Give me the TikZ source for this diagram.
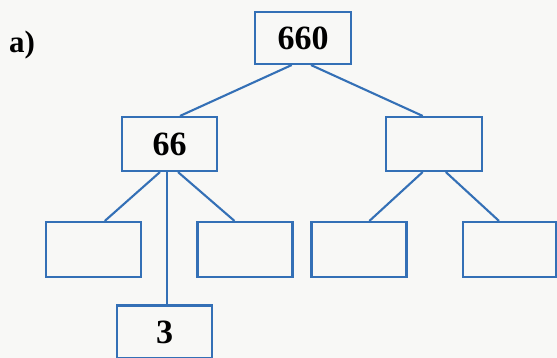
\documentclass[tikz,border=0pt]{standalone}
\usepackage{fontspec}
\setmainfont{Liberation Serif}
\definecolor{boxblue}{RGB}{52,112,182}
\definecolor{paper}{RGB}{248,248,246}
\begin{document}
\begin{tikzpicture}[x=1pt,y=1pt,
  tbox/.style={draw=boxblue,line width=2.1pt,fill=paper,minimum width=95pt,minimum height=53pt,inner sep=0pt,font=\fontsize{34}{34}\selectfont\bfseries},
  link/.style={draw=boxblue,line width=2.1pt}]
\fill[paper] (0,0) rectangle (557,358);
\useasboundingbox (0,0) rectangle (557,358);
\node[font=\fontsize{31}{31}\selectfont\bfseries] (lab) at (22,313) {a)};
\node[tbox,minimum width=96pt,minimum height=52pt] (top) at (303,320) {660};
\node[tbox,minimum height=54pt] (n66) at (169.5,214) {66};
\node[tbox,minimum width=96pt,minimum height=54pt] (rt) at (434,214) {};
\node[tbox,minimum height=55pt] (l1) at (93.5,108.5) {};
\node[tbox,minimum height=55pt] (l2) at (245,108.5) {};
\node[tbox,minimum height=55pt] (l3) at (359,108.5) {};
\node[tbox,minimum width=93pt,minimum height=55pt] (l4) at (509.5,108.5) {};
\node[tbox] (n3) at (164.5,26) {3};
\draw[link] ([xshift=-11.3pt]top.south) -- ([xshift=10.5pt]n66.north);
\draw[link] ([xshift=8pt]top.south) -- ([xshift=-11.3pt]rt.north);
\draw[link] ([xshift=-9.5pt]n66.south) -- ([xshift=11.3pt]l1.north);
\draw[link] ([xshift=-2.5pt]n66.south) -- ([xshift=2.5pt]n3.north);
\draw[link] ([xshift=8.5pt]n66.south) -- ([xshift=-10.5pt]l2.north);
\draw[link] ([xshift=-11.3pt]rt.south) -- ([xshift=10.4pt]l3.north);
\draw[link] ([xshift=11.8pt]rt.south) -- ([xshift=-10.5pt]l4.north);
\end{tikzpicture}
\end{document}
